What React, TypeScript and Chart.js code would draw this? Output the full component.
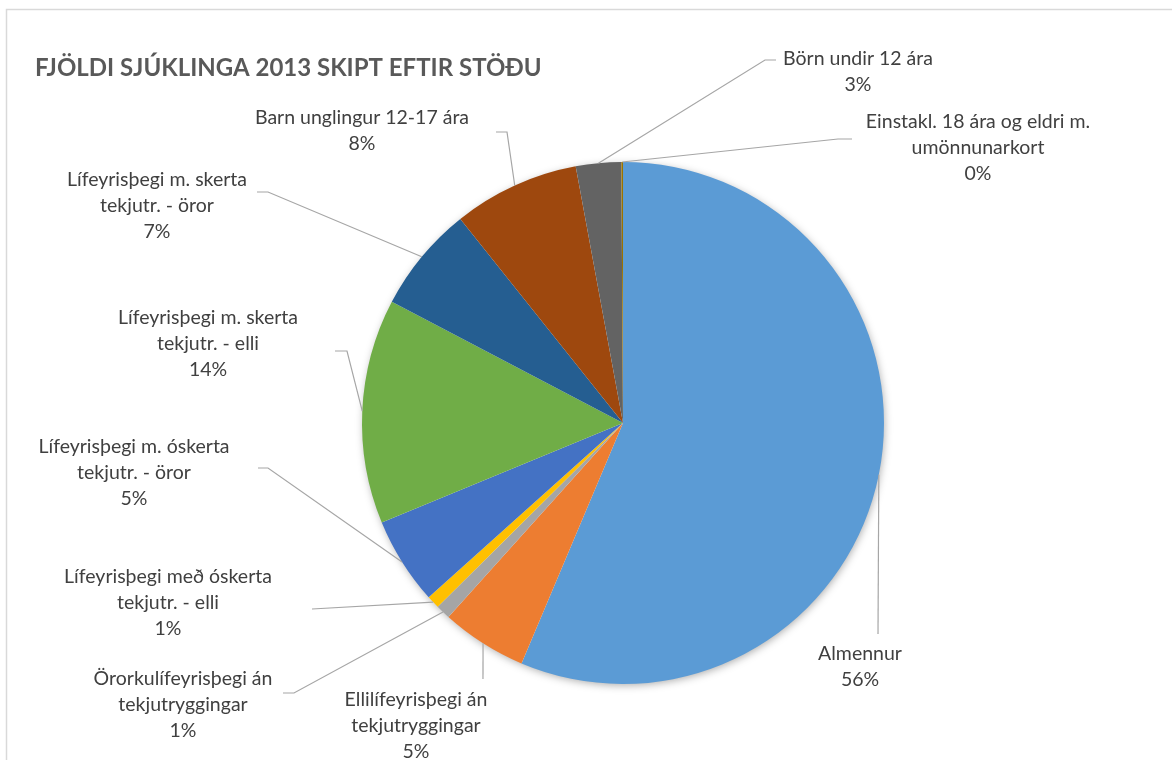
import React, { useEffect, useRef } from "react";
import { Chart, registerables } from "chart.js";

Chart.register(...registerables);

// ---- data ----
const categories: string[][] = [
  ["Almennur"],
  ["Ellilífeyrisþegi án", "tekjutryggingar"],
  ["Örorkulífeyrisþegi án", "tekjutryggingar"],
  ["Lífeyrisþegi með óskerta", "tekjutr. - elli"],
  ["Lífeyrisþegi m. óskerta", "tekjutr. - öror"],
  ["Lífeyrisþegi m. skerta", "tekjutr. - elli"],
  ["Lífeyrisþegi m. skerta", "tekjutr. - öror"],
  ["Barn unglingur 12-17 ára"],
  ["Börn undir 12 ára"],
  ["Einstakl. 18 ára og eldri m.", "umönnunarkort"],
];

const shares: number[] = [56.3, 5.3, 0.9, 0.8, 5.4, 13.9, 6.6, 7.8, 2.8, 0.1];

const colors: string[] = [
  "#5B9BD5",
  "#ED7D31",
  "#A5A5A5",
  "#FFC000",
  "#4472C4",
  "#70AD47",
  "#255E91",
  "#9E480E",
  "#636363",
  "#997300",
];

const title = "FJÖLDI SJÚKLINGA 2013 SKIPT EFTIR STÖÐU";

// ---- label layout (offsets from pie centre, px) ----
type LabelLayout = { cx: number; y0: number; path: number[][] };
const labelLayout: LabelLayout[] = [
  { cx: 237, y0: 231, path: [[255, 211]] },
  { cx: -207, y0: 277, path: [[-140, 256]] },
  { cx: -440, y0: 256, path: [[-329, 270], [-340, 270]] },
  { cx: -455, y0: 154, path: [[-311, 186]] },
  { cx: -489, y0: 24, path: [[-355, 45], [-365, 45]] },
  { cx: -415, y0: -105, path: [[-276, -72], [-288, -72]] },
  { cx: -466, y0: -243, path: [[-355, -231], [-366, -231]] },
  { cx: -261, y0: -305, path: [[-116, -291], [-127, -291]] },
  { cx: 235, y0: -364, path: [[142, -363], [153, -363]] },
  { cx: 355, y0: -301, path: [[215, -284], [229, -284]] },
];

const FONT = "Lato, 'DejaVu Sans', sans-serif";
const LINE_H = 25.8;

const decorPlugin = {
  id: "decor",
  beforeDraw(chart: any) {
    const ctx = chart.ctx;
    ctx.save();
    ctx.fillStyle = "#ffffff";
    ctx.fillRect(0, 0, chart.width, chart.height);
    ctx.strokeStyle = "#D9D9D9";
    ctx.lineWidth = 1.5;
    ctx.strokeRect(6.5, 9.5, chart.width + 20, chart.height + 20);
    ctx.fillStyle = "#595959";
    ctx.font = `bold 24px ${FONT}`;
    ctx.textBaseline = "alphabetic";
    ctx.textAlign = "left";
    ctx.fillText(title, 35, 76);
    ctx.restore();
  },
  beforeDatasetsDraw(chart: any) {
    const meta = chart.getDatasetMeta(0);
    const arc = meta.data[0];
    if (!arc) return;
    const { x, y, outerRadius } = arc.getProps(["x", "y", "outerRadius"], true);
    const ctx = chart.ctx;
    ctx.save();
    ctx.shadowColor = "rgba(0,0,0,0.35)";
    ctx.shadowBlur = 9;
    ctx.shadowOffsetX = 1;
    ctx.shadowOffsetY = 2;
    ctx.fillStyle = "#ffffff";
    ctx.beginPath();
    ctx.arc(x, y, outerRadius - 1, 0, Math.PI * 2);
    ctx.fill();
    ctx.restore();
  },
  afterDatasetsDraw(chart: any) {
    const meta = chart.getDatasetMeta(0);
    const ctx = chart.ctx;
    const data: number[] = chart.data.datasets[0].data;
    const total = data.reduce((a, b) => a + b, 0);
    ctx.save();
    meta.data.forEach((el: any, i: number) => {
      const { x, y, startAngle, endAngle, outerRadius } = el.getProps(
        ["x", "y", "startAngle", "endAngle", "outerRadius"],
        true
      );
      const lay = labelLayout[i];
      const mid = (startAngle + endAngle) / 2;
      const sx = x + Math.cos(mid) * outerRadius;
      const sy = y + Math.sin(mid) * outerRadius;
      ctx.strokeStyle = "#A6A6A6";
      ctx.lineWidth = 1.2;
      ctx.beginPath();
      ctx.moveTo(sx, sy);
      lay.path.forEach((p) => ctx.lineTo(x + p[0], y + p[1]));
      ctx.stroke();

      const lines = [...categories[i], Math.round((data[i] / total) * 100) + "%"];
      ctx.fillStyle = "#404040";
      ctx.font = `19.5px ${FONT}`;
      ctx.textAlign = "center";
      ctx.textBaseline = "middle";
      lines.forEach((t, k) => {
        ctx.fillText(t, x + lay.cx, y + lay.y0 + k * LINE_H);
      });
    });
    ctx.restore();
  },
};

export default function App() {
  const ref = useRef<HTMLCanvasElement | null>(null);
  useEffect(() => {
    if (!ref.current) return;
    const chart = new Chart(ref.current, {
      type: "pie",
      data: {
        labels: categories.map((c) => c.join(" ")),
        datasets: [
          {
            data: shares,
            backgroundColor: colors,
            borderWidth: 0,
          },
        ],
      },
      options: {
        animation: false,
        responsive: true,
        maintainAspectRatio: false,
        layout: { padding: { left: 362, right: 288, top: 162, bottom: 76 } },
        plugins: {
          legend: { display: false },
          title: { display: false },
          tooltip: { enabled: false },
        },
      },
      plugins: [decorPlugin],
    });
    return () => chart.destroy();
  }, []);
  return (
    <div style={{ position: "absolute", left: 0, top: 0, width: 1172, height: 760 }}>
      <canvas ref={ref} />
    </div>
  );
}
